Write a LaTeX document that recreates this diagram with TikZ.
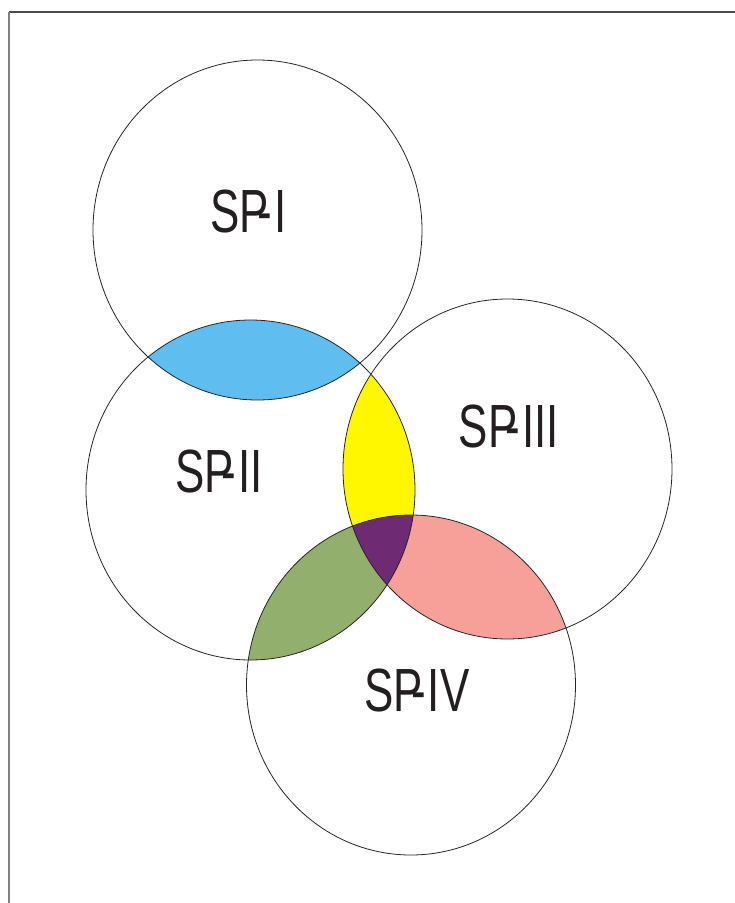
\documentclass[tikz,border=0pt]{standalone}
\usepackage{fontspec}
\setmainfont{Liberation Sans}
\definecolor{lensblue}{HTML}{5FBDF0}
\definecolor{lensyellow}{HTML}{FFF700}
\definecolor{lenspurple}{HTML}{6E2A73}
\definecolor{lenspink}{HTML}{F7A09A}
\definecolor{lensgreen}{HTML}{93AF6E}
\definecolor{inkdark}{HTML}{231F20}
\newcommand{\splabel}[1]{\fontsize{61}{61}\selectfont\scalebox{0.72}[1]{#1}}
\begin{document}
\begin{tikzpicture}[x=1pt,y=-1pt,
  ring/.style={draw=black!85,line width=0.8pt},
  frametop/.style={draw=black!70,line width=1.2pt},
  frameleft/.style={draw=black!50,line width=1.8pt},
  splab/.style={inner sep=0pt,text=inkdark}]
\useasboundingbox (0,0) rectangle (735,903);
\def\cI{(257.5,230) ellipse [x radius=164.5pt, y radius=170pt]}
\def\cII{(250.5,490) ellipse [x radius=164.5pt, y radius=170pt]}
\def\cIII{(507.5,469) ellipse [x radius=164.5pt, y radius=170pt]}
\def\cIV{(411,685) ellipse [x radius=164.5pt, y radius=170pt]}
% lens fills
\begin{scope}\clip \cI; \fill[lensblue] \cII; \end{scope}
\begin{scope}\clip \cII; \fill[lensyellow] \cIII; \end{scope}
\begin{scope}\clip \cII; \fill[lensgreen] \cIV; \end{scope}
\begin{scope}\clip \cIII; \fill[lenspink] \cIV; \end{scope}
\begin{scope}\clip \cII; \clip \cIII; \fill[lenspurple] \cIV; \end{scope}
% circles
\path[ring] \cI;
\path[ring] \cII;
\path[ring] \cIII;
\path[ring] \cIV;
% frame
\draw[frametop] (9,12) -- (735,12);
\draw[frameleft] (9,12) -- (9,903);
% labels
\node[splab] (sp1) at (248.5,211) {\splabel{SP\kern-0.27em-\kern0.05em I}};
\node[splab] (sp2) at (219,471) {\splabel{SP\kern-0.27em-\kern0.05em II}};
\node[splab] (sp3) at (509,426) {\splabel{SP\kern-0.27em-\kern0.05em III}};
\node[splab] (sp4) at (417,690) {\splabel{SP\kern-0.27em-\kern0.05em IV}};
\end{tikzpicture}
\end{document}
